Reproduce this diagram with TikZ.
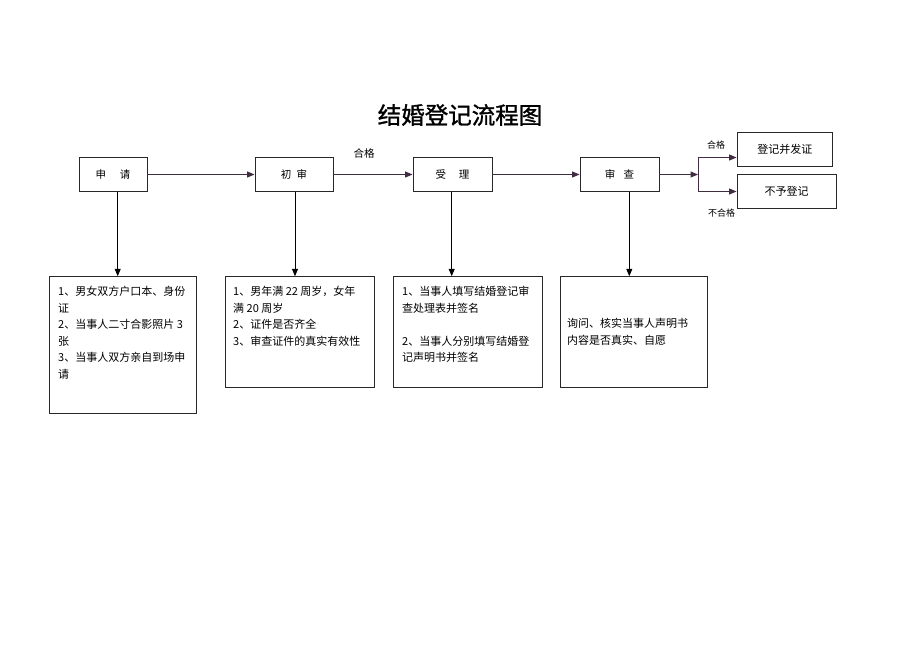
\documentclass[tikz,border=0pt]{standalone}
\usepackage{fontspec}
\setmainfont{Liberation Serif}
\newfontfamily\cjk{Noto Sans CJK SC}
\newfontfamily\cjkt[FakeBold=1.2]{Noto Sans CJK SC}
\usetikzlibrary{arrows.meta}
\definecolor{lnc}{RGB}{65,45,65}
\definecolor{bxc}{RGB}{40,40,40}
\begin{document}
\begin{tikzpicture}[x=1pt,y=-1pt,
 box/.style={draw=bxc,line width=0.9pt,inner sep=0pt},
 hbox/.style={box,font=\cjk\fontsize{10.5}{12}\selectfont},
 txt/.style={inner sep=0pt,anchor=north west,align=left,font=\cjk\fontsize{11}{16.5}\selectfont},
 lbl/.style={inner sep=0pt,font=\cjk\fontsize{9}{11}\selectfont},
 lnline/.style={draw=lnc,line width=1pt},
 arr/.style={lnline,-{Triangle[length=7.5pt,width=6pt]}},
 varr/.style={draw=black,line width=1pt,-{Triangle[length=7.5pt,width=6pt]}}]
\useasboundingbox (0,0) rectangle (920,651);
\fill[white] (0,0) rectangle (920,651);

\node[inner sep=0pt,font=\cjkt\fontsize{23.5}{26}\selectfont] (title) at (460,115) {结婚登记流程图};

% header boxes
\node[hbox,minimum width=68pt,minimum height=34pt] (sq) at (113,174.5) {申\hspace{1.3em}请};
\node[hbox,minimum width=78pt,minimum height=34pt] (cs) at (294,174.5) {初\hspace{0.5em}审};
\node[hbox,minimum width=79pt,minimum height=34pt] (sl) at (452.5,174.5) {受\hspace{1.2em}理};
\node[hbox,minimum width=79pt,minimum height=34pt] (sc) at (619.5,174.5) {审\hspace{0.8em}查};
\node[box,font=\cjk\fontsize{11}{13}\selectfont,minimum width=95.5pt,minimum height=33.7pt] (dj) at (784.75,149.2) {登记并发证};
\node[box,font=\cjk\fontsize{11}{13}\selectfont,minimum width=99pt,minimum height=34pt] (bd) at (786.5,191.3) {不予登记};

% lower boxes
\node[box,minimum width=147.5pt,minimum height=136.6pt] (b1) at (122.75,345) {};
\node[box,minimum width=148.6pt,minimum height=111pt] (b2) at (300,332.2) {};
\node[box,minimum width=149.2pt,minimum height=111pt] (b3) at (467.9,332.2) {};
\node[box,minimum width=147.7pt,minimum height=111pt] (b4) at (633.85,332.2) {};

\node[txt] (t1) at (58,286) {1、男女双方户口本、身份\\证\\2、当事人二寸合影照片 3\\张\\3、当事人双方亲自到场申\\请};
\node[txt] (t2) at (233,286) {1、男年满 22 周岁，女年\\满 20 周岁\\2、证件是否齐全\\3、审查证件的真实有效性};
\node[txt] (t3) at (402,286) {1、当事人填写结婚登记审\\查处理表并签名\\[16.5pt]2、当事人分别填写结婚登\\记声明书并签名};
\node[txt] (t4) at (567,318) {询问、核实当事人声明书\\内容是否真实、自愿};

% horizontal flow
\draw[arr] (sq.east) -- (cs.west);
\draw[arr] (cs.east) -- (sl.west);
\node[inner sep=0pt,font=\cjk\fontsize{10.5}{12}\selectfont] (hg1) at (364,153) {合格};
\draw[arr] (sl.east) -- (sc.west);

% branch
\coordinate (br) at (698,174.5);
\coordinate (brt) at (698,157.5);
\coordinate (brb) at (698,191.5);
\draw[arr] (sc.east) -- (br);
\draw[lnline] (brt) -- (brb);
\draw[arr] (brt) -- (brt -| dj.west);
\draw[arr] (brb) -- (brb -| bd.west);
\node[lbl] (hg2) at (716,145) {合格};
\node[lbl] (bhg) at (721.5,213) {不合格};

% vertical arrows
\draw[varr] ([xshift=4.7pt]sq.south) -- ([xshift=4.7pt]sq.south |- b1.north);
\draw[varr] ([xshift=1pt]cs.south) -- ([xshift=1pt]cs.south |- b2.north);
\draw[varr] ([xshift=-0.8pt]sl.south) -- ([xshift=-0.8pt]sl.south |- b3.north);
\draw[varr] ([xshift=9.8pt]sc.south) -- ([xshift=9.8pt]sc.south |- b4.north);
\end{tikzpicture}
\end{document}
